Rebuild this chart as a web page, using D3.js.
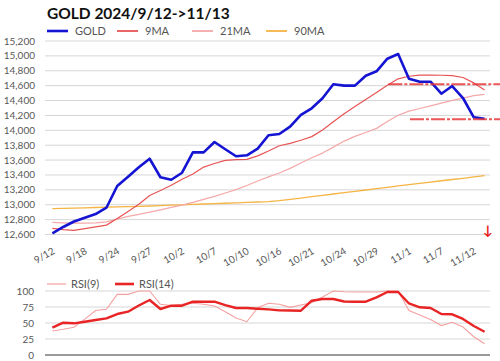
<!DOCTYPE html>
<html><head><meta charset="utf-8">
<script src="https://cdn.jsdelivr.net/npm/d3@7"></script>
<style>
body{margin:0;background:#fff;}
text{font-family:Lato,"Open Sans",sans-serif;}
</style></head>
<body><svg id="c" width="500" height="361"></svg>
<script>
const title = "GOLD 2024/9/12->11/13";
const dates = ["9/12","9/13","9/17","9/18","9/19","9/20","9/24","9/25","9/26","9/27","9/30","10/1","10/2","10/3","10/4","10/7","10/8","10/9","10/10","10/11","10/15","10/16","10/17","10/18","10/21","10/22","10/23","10/24","10/25","10/28","10/29","10/30","10/31","11/1","11/5","11/6","11/7","11/8","11/11","11/12","11/13"];
const gold = [12616,12701,12775,12826,12875,12960,13252,13377,13503,13618,13369,13336,13430,13704,13704,13843,13745,13651,13664,13753,13933,13950,14049,14206,14296,14430,14618,14600,14600,14734,14793,14962,15025,14694,14653,14653,14492,14595,14434,14175,14156];
const ma9 = [12683,12666,12656,12679,12703,12726,12816,12909,13006,13123,13191,13261,13342,13413,13506,13554,13596,13605,13610,13657,13722,13792,13825,13866,13915,14005,14114,14223,14320,14414,14509,14606,14692,14726,14742,14743,14740,14735,14710,14637,14542];
const ma21 = [12764,12757,12753,12752,12756,12769,12806,12843,12871,12901,12932,12964,12994,13031,13072,13112,13158,13203,13258,13319,13375,13426,13489,13561,13631,13694,13774,13855,13918,13971,14026,14117,14202,14257,14293,14328,14366,14403,14433,14465,14484];
const ma90 = [12947,12951,12955,12959,12963,12967,12971,12975,12979,12983,12987,12994,12999,13004,13010,13015,13020,13026,13031,13037,13041,13055,13073,13090,13108,13125,13144,13162,13179,13198,13217,13234,13252,13269,13287,13304,13322,13339,13355,13373,13390];
const rsi9 = [37.5,40.2,43.3,56,69.5,71.4,94.8,94.8,100,100,79.2,77.3,79.2,80.8,79.2,76.6,67.5,57.8,52,73.8,80.8,79.2,74.5,78.1,81.7,90.6,100,98.9,98.4,98.4,98.4,100,100,69.5,62.5,55.5,46,51.1,43.8,28.6,17.5];
const rsi14 = [42.7,50.5,49.5,52,54.7,57.3,64,67.7,77.3,86,71.9,77,77,83.3,83.3,83.3,78,73.4,73.4,72.2,71.3,69.8,69.5,69.2,84.8,87.5,87.5,83.6,83.3,83.3,90,98.4,98.4,80.5,74.5,73.4,64,63.6,56.3,45.3,36.4];
const yTicks = [12600,12800,13000,13200,13400,13600,13800,14000,14200,14400,14600,14800,15000,15200];
const rsiTicks = [0,25,50,75,100];
const xLabelEvery = 3;
const levels = [{v:14620,from:31},{v:14150,from:33}];
const seriesInfo = [
  {name:"GOLD", data:gold, color:"#1414d2", w:2.6},
  {name:"9MA", data:ma9, color:"#e85454", w:1.2},
  {name:"21MA", data:ma21, color:"#f5a8a8", w:1.2},
  {name:"90MA", data:ma90, color:"#f5b443", w:1.3}
];

const svg = d3.select("#c");
const x = d3.scalePoint().domain(d3.range(dates.length)).range([47,490]).padding(0.5);
const y = d3.scaleLinear().domain([12600,15200]).range([234.5,41]);
const yr = d3.scaleLinear().domain([0,100]).range([355,291]);
const L = 47, R = 490;

svg.append("text").attr("x",47).attr("y",19).attr("font-size",15.5).attr("font-weight","bold")
  .attr("fill","#111").text(title);

// main grid
const gy = svg.append("g");
yTicks.forEach(t=>{
  gy.append("line").attr("x1",L-2).attr("x2",R).attr("y1",y(t)).attr("y2",y(t)).attr("stroke","#d6d6d6").attr("stroke-width",1);
  gy.append("text").attr("x",35).attr("y",y(t)+3.5).attr("text-anchor","end").attr("font-size",10)
    .attr("fill","#595959").text(d3.format(",")(t));
});

// x labels
dates.forEach((d,i)=>{
  if(i%xLabelEvery!==0) return;
  svg.append("text").attr("text-anchor","end").attr("font-size",10).attr("fill","#595959")
    .attr("transform",`translate(${x(i)+3},${253}) rotate(-30)`).text(d);
});

// series lines
const line = d3.line().x((d,i)=>x(i)).y(d=>y(d));
seriesInfo.slice().reverse().forEach(s=>{
  svg.append("path").attr("d",line(s.data)).attr("fill","none").attr("stroke",s.color)
    .attr("stroke-width",s.w).attr("stroke-linejoin","round");
});

// annotation levels
levels.forEach(l=>{
  svg.append("line").attr("x1",x(l.from)+1).attr("x2",500).attr("y1",y(l.v)).attr("y2",y(l.v))
    .attr("stroke","#e83838").attr("stroke-width",2).attr("stroke-dasharray","14,2,3,2").attr("opacity",0.85);
});
svg.append("text").attr("x",488).attr("y",235).attr("text-anchor","middle").attr("font-size",13)
  .attr("font-weight","bold").attr("fill","#e81818").text("↓");

// legend
const legX = [47,117,192,266];
seriesInfo.forEach((s,i)=>{
  svg.append("line").attr("x1",legX[i]).attr("x2",legX[i]+21).attr("y1",31).attr("y2",31)
    .attr("stroke",s.color).attr("stroke-width",s.name==="GOLD"?2.6:1.8);
  svg.append("text").attr("x",legX[i]+28).attr("y",35).attr("font-size",11).attr("fill","#555").text(s.name);
});

// RSI panel
rsiTicks.forEach(t=>{
  svg.append("line").attr("x1",L-2).attr("x2",R).attr("y1",yr(t)).attr("y2",yr(t))
    .attr("stroke",t===0?"#9a9a9a":"#d6d6d6").attr("stroke-width",t===0?2.2:1);
  svg.append("text").attr("x",34).attr("y",yr(t)+3.5).attr("text-anchor","end").attr("font-size",10)
    .attr("fill","#595959").text(t);
});
const lr = d3.line().x((d,i)=>x(i)).y(d=>yr(d));
svg.append("path").attr("d",lr(rsi9)).attr("fill","none").attr("stroke","#f5a0a0").attr("stroke-width",1.1);
svg.append("path").attr("d",lr(rsi14)).attr("fill","none").attr("stroke","#e82424").attr("stroke-width",2.4).attr("stroke-linejoin","round");
const rl = [{n:"RSI(9)",c:"#f5a0a0",w:1.2,x:47},{n:"RSI(14)",c:"#e82424",w:2.6,x:115}];
rl.forEach(r=>{
  svg.append("line").attr("x1",r.x).attr("x2",r.x+19).attr("y1",284).attr("y2",284).attr("stroke",r.c).attr("stroke-width",r.w);
  svg.append("text").attr("x",r.x+24).attr("y",288).attr("font-size",11).attr("fill","#555").text(r.n);
});
</script></body></html>
